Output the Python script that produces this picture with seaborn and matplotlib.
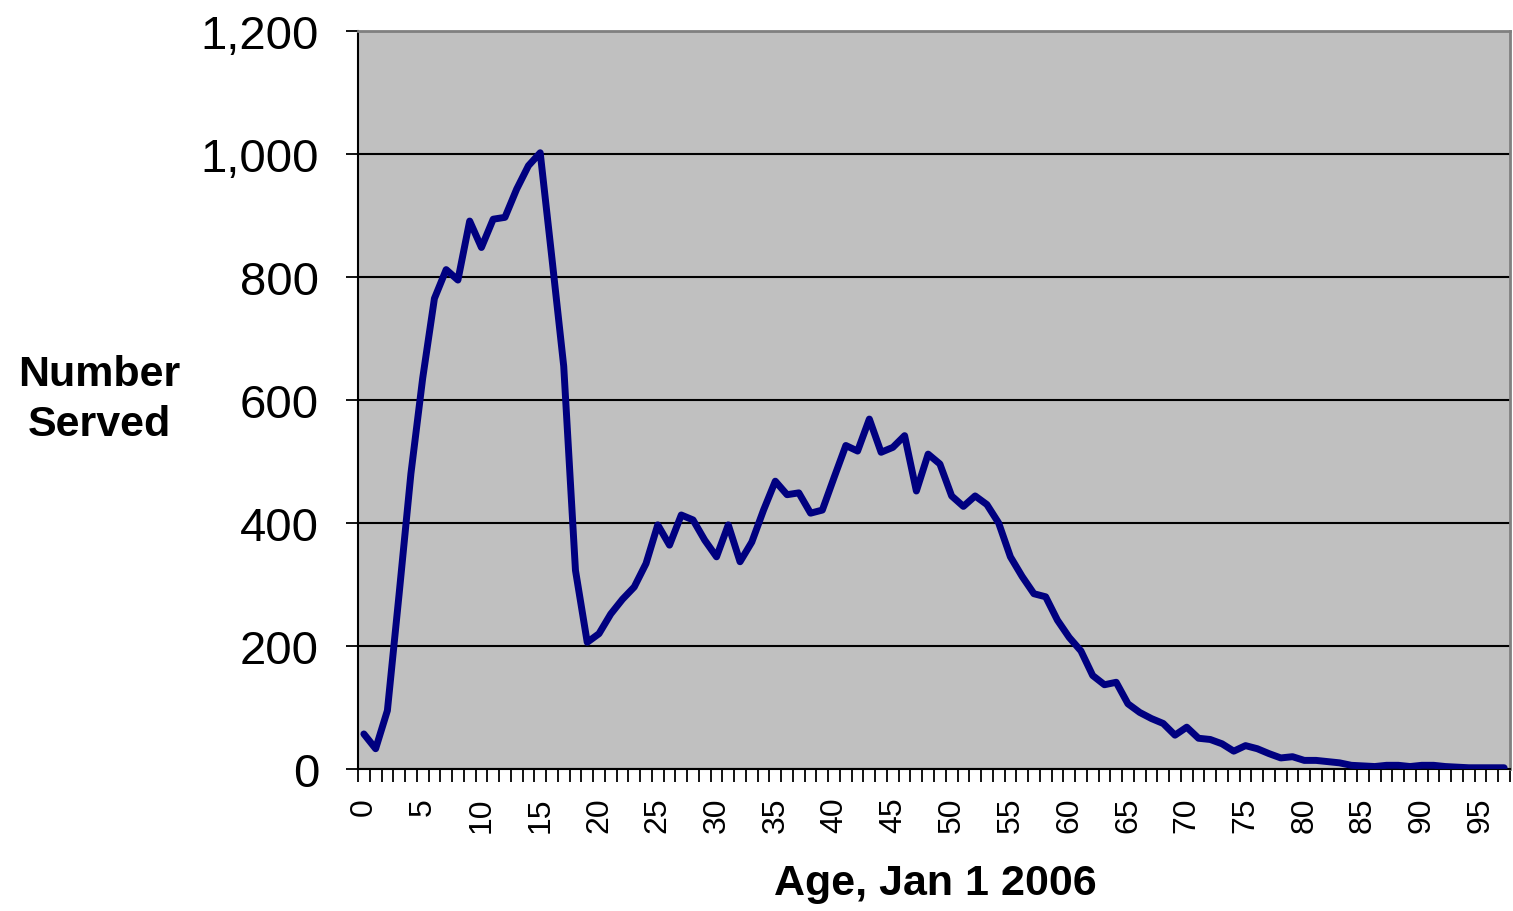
import numpy as np
import pandas as pd
import matplotlib
matplotlib.use("Agg")
import matplotlib.pyplot as plt
import seaborn as sns
from matplotlib.ticker import FuncFormatter

# ---- data ----
ages = list(range(0, 98))
served = [57, 33, 95, 285, 480, 635, 765, 812, 795, 891,
          848, 894, 897, 943, 981, 1002, 830, 655, 323, 206,
          220, 252, 276, 296, 334, 397, 364, 413, 405, 372,
          345, 397, 337, 369, 421, 468, 446, 449, 416, 421,
          474, 526, 517, 569, 515, 523, 542, 452, 512, 496,
          444, 427, 444, 430, 400, 345, 313, 285, 280, 242,
          214, 192, 152, 137, 141, 106, 92, 82, 74, 55,
          68, 50, 48, 41, 29, 38, 33, 25, 18, 20,
          14, 14, 12, 10, 6, 5, 4, 6, 6, 4,
          6, 6, 4, 3, 2, 2, 2, 2]
x_tick_labels = [str(v) for v in range(0, 96, 5)]
y_ticks = [0, 200, 400, 600, 800, 1000, 1200]
x_title = "Age, Jan 1 2006"
y_title = "Number\nServed"

df = pd.DataFrame({"age": ages, "served": served})

sns.set_style("white")
plt.rcParams["font.family"] = ["Liberation Sans", "DejaVu Sans"]
plt.rcParams["text.color"] = "black"
plt.rcParams["xtick.color"] = "black"
plt.rcParams["ytick.color"] = "black"
plt.rcParams["axes.labelcolor"] = "black"

fig = plt.figure(figsize=(15.13, 9.12), dpi=100)
ax = fig.add_axes([358 / 1513, 1 - 770 / 912, (1510 - 358) / 1513, (770 - 32) / 912])
ax.set_facecolor("#C0C0C0")

sns.lineplot(data=df, x="age", y="served", ax=ax, color="#000080",
             linewidth=5.0, solid_joinstyle="round", solid_capstyle="round", zorder=3)

ax.set_xlim(-0.5, len(ages) - 0.5)
ax.set_ylim(0, 1200)

# y axis
ax.set_yticks(y_ticks)
ax.yaxis.set_major_formatter(FuncFormatter(lambda v, p: f"{int(v):,}"))
ax.tick_params(axis="y", which="major", length=9, width=1.3, direction="out",
               labelsize=34, pad=19, color="black", labelcolor="black", left=True)
ax.yaxis.grid(True, color="black", linewidth=1.5, zorder=1)
ax.xaxis.grid(False)
ax.set_axisbelow(True)

# x axis (category style: ticks at boundaries, labels at centers)
ax.set_xticks(list(range(0, 96, 5)))
ax.set_xticklabels(x_tick_labels, rotation=90, va="top", ha="center")
ax.set_xticks(np.arange(-0.5, len(ages), 1.0), minor=True)
ax.tick_params(axis="x", which="major", length=0, labelsize=23, pad=20,
               labelcolor="black", bottom=True)
ax.tick_params(axis="x", which="minor", length=9, width=1.3, direction="out",
               color="black", bottom=True)

ax.set_xlabel("")
ax.set_ylabel("")

for side in ["left", "bottom"]:
    ax.spines[side].set_color("black")
    ax.spines[side].set_linewidth(1.5)
for side in ["top", "right"]:
    ax.spines[side].set_color("#808080")
    ax.spines[side].set_linewidth(2.0)

fig.text(935 / 1513, 1 - 884 / 912, x_title, ha="center", va="center",
         fontsize=31, fontweight="bold", color="black")
fig.text(99 / 1513, 1 - 400 / 912, y_title, ha="center", va="center",
         fontsize=31, fontweight="bold", multialignment="center",
         linespacing=1.3, color="black")

fig.savefig("out.png", dpi=100, facecolor="white")
